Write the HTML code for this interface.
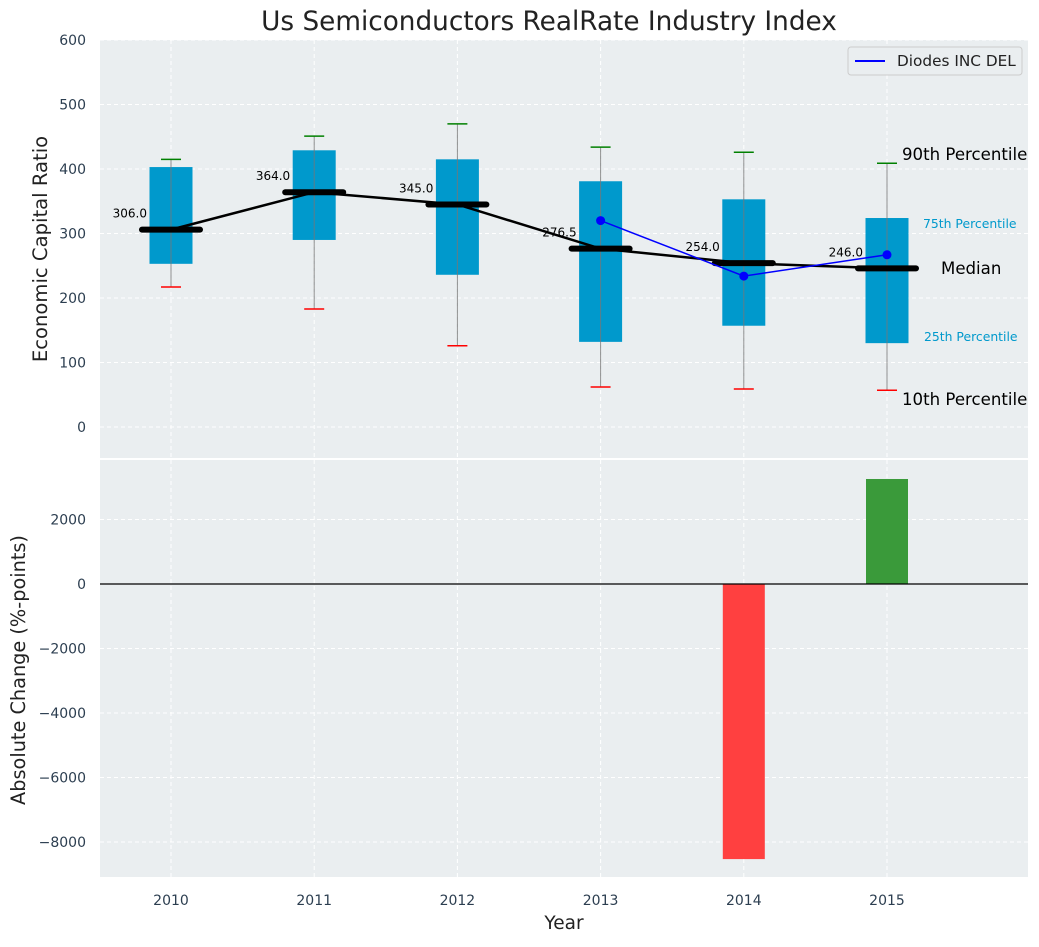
<!DOCTYPE html>
<html><head><meta charset="utf-8"><style>
body{margin:0;background:#fff;font-family:"Liberation Sans","DejaVu Sans",sans-serif}
svg text{font-family:"DejaVu Sans","Liberation Sans",sans-serif}
</style></head><body>
<svg id="chart" width="1039" height="942" xmlns="http://www.w3.org/2000/svg">
<rect width="1039" height="942" fill="#fff"/>
<text x="549" y="30" font-size="26.3" text-anchor="middle" fill="#222">Us Semiconductors RealRate Industry Index</text>
<rect x="100" y="40" width="928" height="418" fill="#eaeef0"/>
<rect x="100" y="460" width="928" height="417" fill="#eaeef0"/>
<g id="g"></g>
<text transform="translate(47,249) rotate(-90)" font-size="19.6" text-anchor="middle" fill="#222">Economic Capital Ratio</text>
<text transform="translate(25,670) rotate(-90)" font-size="19.3" text-anchor="middle" fill="#222">Absolute Change (%-points)</text>
<text x="564" y="929" font-size="18.5" text-anchor="middle" fill="#222">Year</text>
<g>
<rect x="848" y="47" width="174" height="28" rx="3" fill="#eaeef0" stroke="#ccc"/>
<line x1="855" y1="61" x2="885" y2="61" stroke="blue" stroke-width="2"/>
<text x="897" y="66" font-size="15.3" fill="#222">Diodes INC DEL</text>
</g>
<text x="902" y="160" font-size="16.6" fill="#000">90th Percentile</text>
<text x="923" y="228" font-size="12.4" fill="#0099cc">75th Percentile</text>
<text x="941" y="274" font-size="16.6" fill="#000">Median</text>
<text x="924" y="341" font-size="12.4" fill="#0099cc">25th Percentile</text>
<text x="902" y="405" font-size="16.6" fill="#000">10th Percentile</text>
</svg>
<script>
const years=["2010","2011","2012","2013","2014","2015"];
const p10=[217,183,126,62,59,57];
const p25=[253,290,236,132,157,130];
const median=[306,364,345,276.5,254,246];
const p75=[403,429,415,381,353,324];
const p90=[415,451,470,434,426,409];
const companyYears=[3,4,5];
const companyValues=[320,234,267];
const changes=[0,0,0,0,-8530,3256];
const topTicks=[0,100,200,300,400,500,600];
const botTicks=[2000,0,-2000,-4000,-6000,-8000];

const NS="http://www.w3.org/2000/svg";
const g=document.getElementById('g');
const X=i=>171+i*143.2;
const Y1=v=>427-v*0.645;
const Y2=v=>584-v*0.03225;
function mk(t,a,txt){const e=document.createElementNS(NS,t);for(const k in a)e.setAttribute(k,a[k]);if(txt!==undefined)e.textContent=txt;g.appendChild(e);return e;}
topTicks.forEach(t=>{
 const l=mk('line',{x1:100,x2:1028,y1:Y1(t),y2:Y1(t),stroke:'#fff','stroke-dasharray':'4,3'});
 
 const tx=mk('text',{x:86,y:Y1(t)+5,'font-size':14,'text-anchor':'end',fill:'#2c3e50'},t);
 
});
botTicks.forEach(t=>{
 const l=mk('line',{x1:100,x2:1028,y1:Y2(t),y2:Y2(t),stroke:'#fff','stroke-dasharray':'4,3'});
 
 const tx=mk('text',{x:86,y:Y2(t)+5,'font-size':14,'text-anchor':'end',fill:'#2c3e50'},t<0?'\u2212'+(-t):t);
 
});
years.forEach((y,i)=>{
 const a=mk('line',{x1:X(i),x2:X(i),y1:40,y2:458,stroke:'#fff','stroke-dasharray':'4,3'});
 
 const b=mk('line',{x1:X(i),x2:X(i),y1:460,y2:877,stroke:'#fff','stroke-dasharray':'4,3'});
 
 const t=mk('text',{x:X(i),y:905,'font-size':14,'text-anchor':'middle',fill:'#2c3e50'},y);
 
});
years.forEach((y,i)=>{
 const x=X(i);
 const b=mk('rect',{x:x-21.5,y:Y1(p75[i]),width:43,height:Y1(p25[i])-Y1(p75[i]),fill:'#0099cc'});
 
 const w=mk('line',{x1:x,x2:x,y1:Y1(p10[i]),y2:Y1(p90[i]),stroke:'#777','stroke-width':1,opacity:0.8});
 
 const c1=mk('line',{x1:x-10,x2:x+10,y1:Y1(p90[i]),y2:Y1(p90[i]),stroke:'green','stroke-width':1.5});
 
 const c2=mk('line',{x1:x-10,x2:x+10,y1:Y1(p10[i]),y2:Y1(p10[i]),stroke:'red','stroke-width':1.5});
 
});
const ml=mk('polyline',{points:median.map((m,i)=>X(i)+','+Y1(m)).join(' '),fill:'none',stroke:'#000','stroke-width':2.5});

median.forEach((m,i)=>{
 const l=mk('line',{x1:X(i)-29,x2:X(i)+29,y1:Y1(m),y2:Y1(m),stroke:'#000','stroke-width':6,'stroke-linecap':'round'});
 
 const t=mk('text',{x:X(i)-24,y:Y1(m)-12,'font-size':12,'text-anchor':'end',fill:'#000'},m.toFixed(1));
 
});
const cl=mk('polyline',{points:companyValues.map((v,k)=>X(companyYears[k])+','+Y1(v)).join(' '),fill:'none',stroke:'blue','stroke-width':1.5});

companyValues.forEach((v,k)=>{
 const c=mk('circle',{cx:X(companyYears[k]),cy:Y1(v),r:4.5,fill:'blue'});
 
});
changes.forEach((v,i)=>{
 if(!v)return;
 const r=mk('rect',{x:X(i)-21,y:Math.min(Y2(v),Y2(0)),width:42,height:Math.abs(Y2(v)-Y2(0)),fill:v<0?'#ff4040':'#3a9a3a'});
 
});
const z=mk('line',{x1:100,x2:1028,y1:Y2(0),y2:Y2(0),stroke:'#000','stroke-width':1.2});

</script>
</body></html>
